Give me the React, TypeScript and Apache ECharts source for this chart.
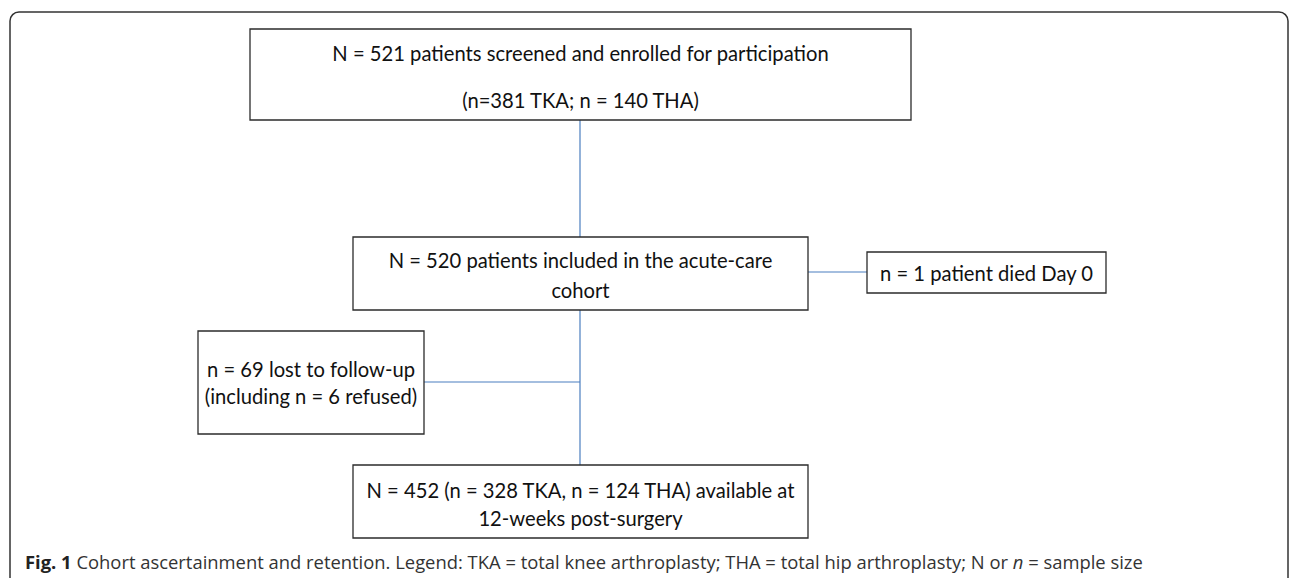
import React, { useEffect, useRef } from "react";
import * as echarts from "echarts";

// ---- Content (texts of the flow chart) ----
const box1Lines = ["N = 521 patients screened and enrolled for participation", "(n=381 TKA; n = 140 THA)"];
const box2Lines = ["N = 520 patients included in the acute-care", "cohort"];
const box3Lines = ["n = 1 patient died Day 0"];
const box4Lines = ["n = 69 lost to follow-up", "(including n = 6 refused)"];
const box5Lines = ["N = 452 (n = 328 TKA, n = 124 THA) available at", "12-weeks post-surgery"];
const captionBold = "Fig. 1";
const captionText = " Cohort ascertainment and retention. Legend: TKA = total knee arthroplasty; THA = total hip arthroplasty; N or ";
const captionItalic = "n";
const captionEnd = " = sample size";

// ---- Layout ----
const BOX_STROKE = "#2b2b2b";
const LINK = "#4a7ebf";
const BOX_FONT = "Lato, 'Open Sans', sans-serif";
const BOX_SIZE = 20.2;
const CAP_FONT = "'Open Sans', sans-serif";
const CAP_SIZE = 18.4;

type Box = { x: number; y: number; w: number; h: number; lines: string[]; ys: number[] };

const boxes: Box[] = [
  { x: 250, y: 29, w: 661, h: 91, lines: box1Lines, ys: [53, 100] },
  { x: 353, y: 237, w: 455, h: 73, lines: box2Lines, ys: [260, 290] },
  { x: 867, y: 252, w: 239, h: 41, lines: box3Lines, ys: [273] },
  { x: 198, y: 331, w: 226, h: 103, lines: box4Lines, ys: [369, 396] },
  { x: 353, y: 465, w: 455, h: 73, lines: box5Lines, ys: [490, 518] },
];

export default function App() {
  const ref = useRef<HTMLDivElement>(null);
  useEffect(() => {
    if (!ref.current) return;
    const chart = echarts.init(ref.current, undefined, { renderer: "svg" });
    const elements: any[] = [];
    // outer frame
    elements.push({
      type: "rect",
      shape: { x: 10, y: 12, width: 1278, height: 620, r: 9 },
      style: { fill: "#fff", stroke: "#333", lineWidth: 1.5 },
      z: 0,
    });
    // connectors
    const lines = [
      [580, 120, 580, 237],
      [580, 310, 580, 465],
      [808, 272, 867, 272],
      [424, 382, 580, 382],
    ];
    lines.forEach((l) =>
      elements.push({
        type: "line",
        shape: { x1: l[0], y1: l[1], x2: l[2], y2: l[3] },
        style: { stroke: LINK, lineWidth: 1.2 },
        z: 1,
      })
    );
    boxes.forEach((b) => {
      elements.push({
        type: "rect",
        shape: { x: b.x, y: b.y, width: b.w, height: b.h },
        style: { fill: "#fff", stroke: BOX_STROKE, lineWidth: 1.3 },
        z: 2,
      });
      b.lines.forEach((t, i) =>
        elements.push({
          type: "text",
          x: b.x + b.w / 2,
          y: b.ys[i],
          style: {
            text: t,
            fill: "#111",
            font: `${BOX_SIZE}px ${BOX_FONT}`,
            textAlign: "center",
            textVerticalAlign: "middle",
          },
          z: 3,
        })
      );
    });
    // caption
    elements.push({
      type: "text",
      x: 25,
      y: 561,
      style: {
        text: `{b|${captionBold}}{r|${captionText}}{i|${captionItalic}}{r|${captionEnd}}`,
        rich: {
          b: { fontWeight: "bold", fontSize: CAP_SIZE, fontFamily: CAP_FONT, fill: "#222" },
          r: { fontSize: CAP_SIZE, fontFamily: CAP_FONT, fill: "#333" },
          i: { fontStyle: "italic", fontSize: CAP_SIZE, fontFamily: CAP_FONT, fill: "#333" },
        },
        textAlign: "left",
        textVerticalAlign: "middle",
      },
      z: 3,
    });
    chart.setOption({ animation: false, graphic: { elements } });
    return () => chart.dispose();
  }, []);
  return (
    <div
      ref={ref}
      style={{ position: "fixed", left: 0, top: 0, width: 1290, height: 578, background: "#fff" }}
    />
  );
}
